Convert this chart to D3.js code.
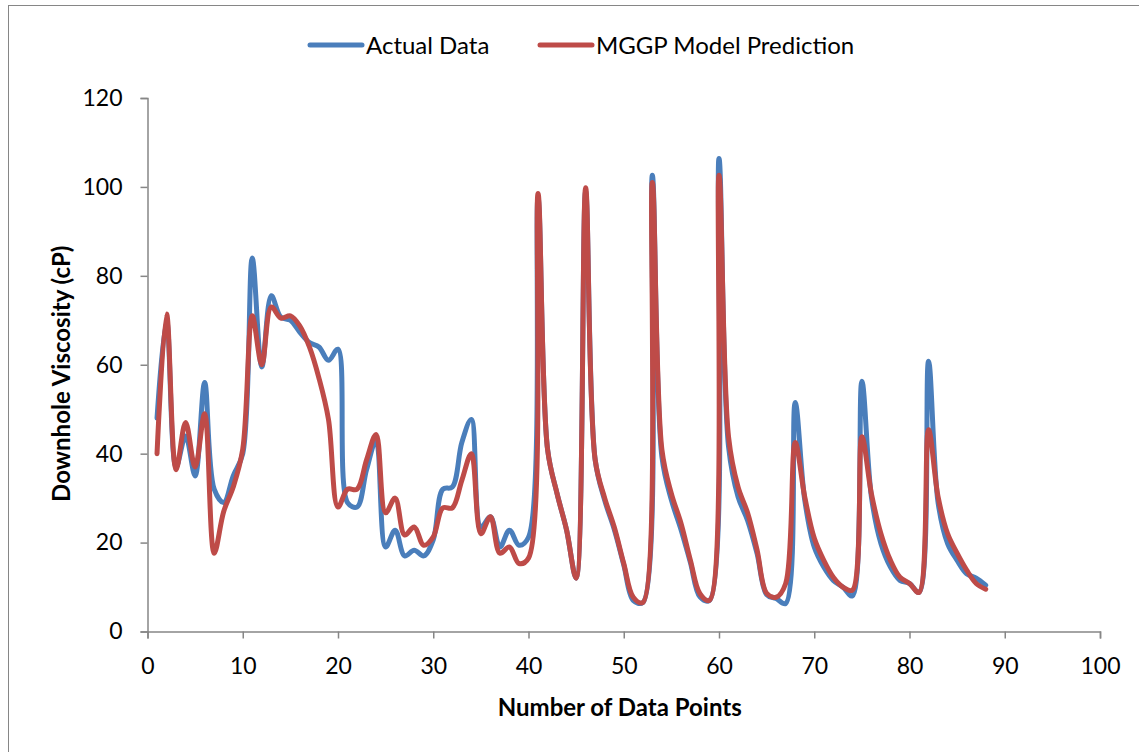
<!DOCTYPE html>
<html>
<head>
<meta charset="utf-8">
<script src="https://cdn.jsdelivr.net/npm/d3@7"></script>
<style>
  body { margin: 0; background: #fff; }
  svg { display: block; font-family: Lato, "Open Sans", sans-serif; }
</style>
</head>
<body>
<svg id="viz" width="1139" height="752"></svg>
<script>
// === DATA ===
const seriesNames = ["Actual Data", "MGGP Model Prediction"];
const seriesColors = ["#4a7ebb", "#be4b48"];

const actual = [
  48, 70, 37, 44, 35, 56, 32, 29, 35, 40,
  84, 59.5, 75.5, 70.7, 70, 67.3, 65, 64, 61, 63.5,
  29, 28, 36.4, 43, 19, 22.8, 17, 18.3, 17, 20.6,
  32, 32.5, 42.5, 47.7, 23.5, 25.8, 19, 22.8, 19.4, 21.2,
  97.5, 41, 31, 22.8, 12, 99, 38.6, 29.5, 23, 15,
  7, 6.5, 102.6, 39.4, 29.6, 23, 15.5, 7.8, 7, 106.4,
  41.6, 30.3, 25, 17.5, 8.3, 7.4, 6.3, 51.5, 29.6, 19,
  14.5, 11.5, 10, 8, 56.3, 30.3, 19.8, 14.5, 11.5, 10.8,
  8.8, 60.8, 29, 19.8, 16, 13, 12, 10.4
];

const predicted = [
  40, 71.4, 36.4, 47, 37, 49, 17.6, 27, 32.5, 41,
  71, 60, 73, 70.5, 71, 68.7, 64, 57, 47.7, 28,
  32, 32, 38.6, 44.3, 26.7, 30, 21.7, 23.5, 19.4, 21.3,
  27.8, 27.8, 34, 40, 22, 25.8, 17.6, 19, 15.3, 16.5,
  98.5, 41, 31, 22.8, 12, 99.8, 38.6, 30, 23.5, 15.3,
  7.7, 6.5, 101, 41, 31, 24.4, 16, 8.5, 7, 102.6,
  43.8, 32.5, 26.7, 18.3, 8.6, 7.7, 10.8, 42.5, 30.3, 21,
  16, 12.2, 10, 9.3, 43.8, 31, 22, 16, 12.2, 10.8,
  8.8, 45.4, 30.3, 22, 17.6, 13.8, 10.8, 9.5
];

const xTicks = [0, 10, 20, 30, 40, 50, 60, 70, 80, 90, 100];
const yTicks = [0, 20, 40, 60, 80, 100, 120];

// === CHART ===
const svg = d3.select("#viz");
const margin = { top: 98, right: 39, bottom: 120.5, left: 147.5 };
const width = +svg.attr("width");
const height = +svg.attr("height");
const plotWidth = width - margin.left - margin.right;
const plotHeight = height - margin.top - margin.bottom;

// outer chart border
svg.append("rect")
  .attr("x", 8.5)
  .attr("y", 5.5)
  .attr("width", 1200)
  .attr("height", 800)
  .attr("fill", "none")
  .attr("stroke", "#868686")
  .attr("stroke-width", 1);

const g = svg.append("g").attr("transform", `translate(${margin.left},${margin.top})`);

const x = d3.scaleLinear().domain([0, 100]).range([0, plotWidth]);
const y = d3.scaleLinear().domain([0, 120]).range([plotHeight, 0]);

// axes
const xAxis = g.append("g")
  .attr("transform", `translate(0,${plotHeight})`)
  .call(d3.axisBottom(x).tickValues(xTicks).tickSize(7).tickPadding(19).tickFormat(d3.format("d")));

const yAxis = g.append("g")
  .call(d3.axisLeft(y).tickValues(yTicks).tickSize(7).tickPadding(18).tickFormat(d3.format("d")));

[xAxis, yAxis].forEach(ax => {
  ax.select(".domain").attr("stroke", "#868686").attr("stroke-width", 1.5);
  ax.selectAll(".tick line").attr("stroke", "#868686").attr("stroke-width", 1.5);
  ax.selectAll(".tick text")
    .attr("fill", "#000")
    .style("font-size", "23px")
    .style("font-family", "Lato, 'Open Sans', sans-serif");
});

// axis titles
g.append("text")
  .attr("x", plotWidth / 2 - 4)
  .attr("y", plotHeight + 84)
  .attr("text-anchor", "middle")
  .style("font-size", "24px")
  .style("font-weight", "bold")
  .text("Number of Data Points");

g.append("text")
  .attr("transform", "rotate(-90)")
  .attr("x", -plotHeight / 2 - 9)
  .attr("y", -78)
  .attr("text-anchor", "middle")
  .style("font-size", "24px")
  .style("font-weight", "bold")
  .text("Downhole Viscosity (cP)");

// lines
const line = d3.line()
  .x((d, i) => x(i + 1))
  .y(d => y(d))
  .curve(d3.curveCatmullRom.alpha(0.5));

[actual, predicted].forEach((values, i) => {
  g.append("path")
    .datum(values)
    .attr("fill", "none")
    .attr("stroke", seriesColors[i])
    .attr("stroke-width", 5)
    .attr("stroke-linejoin", "round")
    .attr("stroke-linecap", "round")
    .attr("d", line);
});

// legend
const legendX = [310, 540];
const legend = svg.append("g");
seriesNames.forEach((name, i) => {
  legend.append("line")
    .attr("x1", legendX[i])
    .attr("x2", legendX[i] + 52)
    .attr("y1", 45)
    .attr("y2", 45)
    .attr("stroke", seriesColors[i])
    .attr("stroke-width", 5)
    .attr("stroke-linecap", "round");
  legend.append("text")
    .attr("x", legendX[i] + 56)
    .attr("y", 45)
    .attr("dy", "0.36em")
    .style("font-size", "24px")
    .text(name);
});
</script>
</body>
</html>
